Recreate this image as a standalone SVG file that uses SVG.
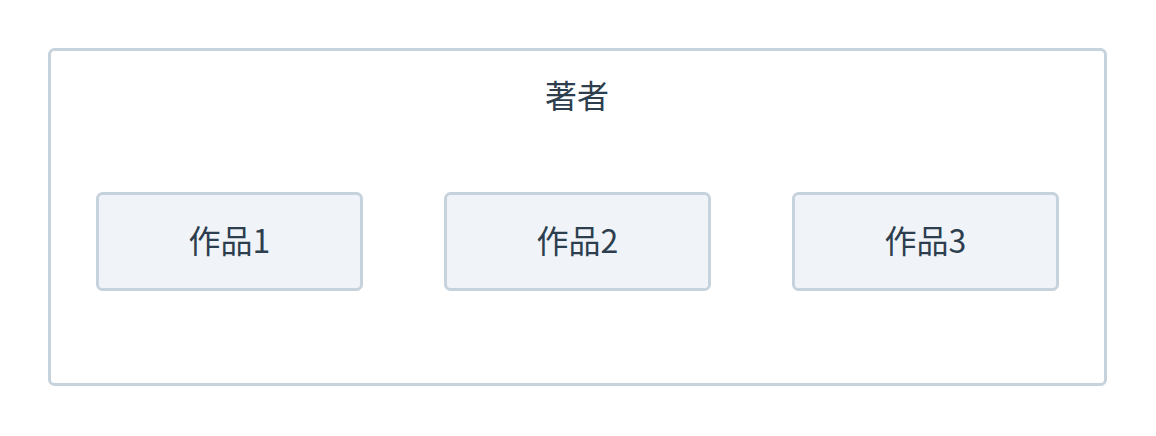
<svg xmlns="http://www.w3.org/2000/svg" width="1156" height="436" viewBox="0 0 1156 436">
<style>
.frame{fill:#ffffff;stroke:#c6d3dd;stroke-width:3}
.box{fill:#f0f4f8;stroke:#c6d3dd;stroke-width:3}
.t{font-family:"Noto Sans CJK JP","Noto Sans",sans-serif;font-size:32px;fill:#2d3e4e;text-anchor:middle;dominant-baseline:central}
</style>
<rect width="1156" height="436" fill="#ffffff"/>
<g id="author">
<rect class="frame" x="49.5" y="49.5" width="1056" height="335" rx="5"/>
<text class="t" x="577" y="94">著者</text>
</g>
<g id="connectors"></g>
<g id="work1">
<rect class="box" x="97.5" y="193.5" width="264" height="96" rx="5"/>
<text class="t" x="229.5" y="239">作品1</text>
</g>
<g id="work2">
<rect class="box" x="445.5" y="193.5" width="264" height="96" rx="5"/>
<text class="t" x="577.5" y="239">作品2</text>
</g>
<g id="work3">
<rect class="box" x="793.5" y="193.5" width="264" height="96" rx="5"/>
<text class="t" x="925.5" y="239">作品3</text>
</g>
</svg>
